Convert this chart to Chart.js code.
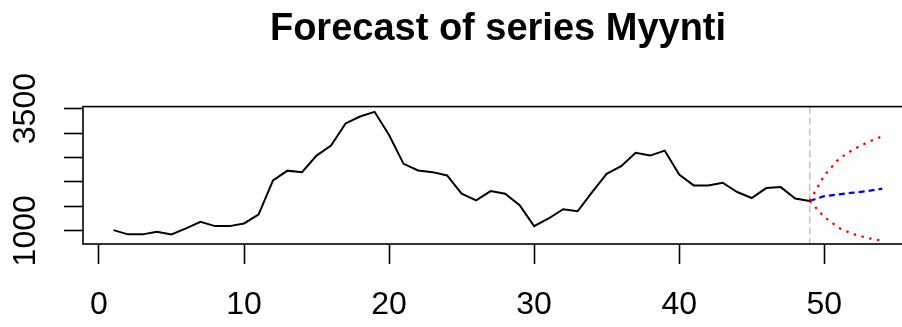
<!DOCTYPE html>
<html>
<head>
<meta charset="utf-8">
<script src="https://cdn.jsdelivr.net/npm/chart.js@4"></script>
<style>
  html, body { margin: 0; padding: 0; background: #fff; overflow: hidden; }
  #wrap { position: relative; width: 913px; height: 327px; }
</style>
</head>
<body>
<div id="wrap"><canvas id="c"></canvas></div>
<script>
// Observed sales (Myynti), periods 1..49
const obsTime = [1, 2, 3, 4, 5, 6, 7, 8, 9, 10, 11, 12, 13, 14, 15, 16, 17, 18, 19, 20,
                 21, 22, 23, 24, 25, 26, 27, 28, 29, 30, 31, 32, 33, 34, 35, 36, 37, 38, 39, 40,
                 41, 42, 43, 44, 45, 46, 47, 48, 49];
const sales = [1014, 927, 927, 980, 927, 1049, 1183, 1096, 1096, 1150,
               1333, 2031, 2231, 2200, 2539, 2742, 3196, 3338, 3434, 2960,
               2370, 2234, 2200, 2132, 1760, 1624, 1813, 1760, 1522, 1096,
               1252, 1441, 1400, 1793, 2167, 2321, 2594, 2539, 2641, 2150,
               1929, 1929, 1984, 1793, 1671, 1874, 1894, 1659, 1610];

// Forecast horizon (starts from the last observation)
const fcTime  = [49, 50, 51, 52, 53, 54];
const fcMean  = [1610, 1710, 1746, 1781, 1813, 1862];
const fcUpper = [1610, 2132, 2470, 2665, 2812, 2935];
const fcLower = [1610, 1284, 1059, 933, 852, 797];

// Axis ticks
const xTicks = [0, 10, 20, 30, 40, 50];
const yTicks = [1000, 1500, 2000, 2500, 3000, 3500];
const yLabelled = [1000, 3500];
const lastObs = 49;

const toPoints = (xs, ys) => xs.map((x, i) => ({ x: x, y: ys[i] }));

Chart.defaults.font.family = '"Liberation Sans", Arial, sans-serif';
Chart.defaults.color = '#000';

// Frame around the plot region and the vertical marker at the forecast origin
const frame = {
  id: 'frame',
  beforeDatasetsDraw(chart) {
    const { ctx, chartArea: a, scales: { x } } = chart;
    const px = x.getPixelForValue(lastObs);
    ctx.save();
    ctx.strokeStyle = '#c4c4c4';
    ctx.lineWidth = 1.6;
    ctx.setLineDash([7, 4]);
    ctx.beginPath();
    ctx.moveTo(px, a.top);
    ctx.lineTo(px, a.bottom);
    ctx.stroke();
    ctx.restore();
  },
  afterDatasetsDraw(chart) {
    const { ctx, chartArea: a } = chart;
    ctx.save();
    ctx.strokeStyle = '#000';
    ctx.lineWidth = 1.6;
    ctx.strokeRect(a.left, a.top, a.right - a.left, a.bottom - a.top);
    ctx.restore();
  }
};

const axisGrid = (len) => ({
  drawOnChartArea: false,
  drawTicks: true,
  tickLength: len,
  tickWidth: 1.6,
  tickColor: '#000',
  color: '#000'
});

new Chart(document.getElementById('c'), {
  type: 'line',
  data: {
    datasets: [
      { data: toPoints(obsTime, sales), borderColor: '#000', borderWidth: 2 },
      { data: toPoints(fcTime, fcUpper), borderColor: '#ff0000', borderWidth: 2.2, borderDash: [2.5, 5.5] },
      { data: toPoints(fcTime, fcLower), borderColor: '#ff0000', borderWidth: 2.2, borderDash: [2.5, 5.5] },
      { data: toPoints(fcTime, fcMean), borderColor: '#0000ff', borderWidth: 2.2, borderDash: [6, 4] }
    ]
  },
  options: {
    responsive: true,
    maintainAspectRatio: false,
    animation: false,
    devicePixelRatio: 1,
    layout: { padding: 0 },
    elements: { point: { radius: 0 }, line: { tension: 0, fill: false } },
    plugins: {
      legend: { display: false },
      tooltip: { enabled: false },
      title: {
        display: true,
        text: 'Forecast of series Myynti',
        fullSize: false,
        font: { size: 38, weight: 'bold' },
        color: '#000',
        padding: { top: 7, bottom: 54 }
      }
    },
    scales: {
      x: {
        type: 'linear',
        min: -1.1,
        max: 56.12,
        grid: axisGrid(20),
        border: { display: false },
        afterBuildTicks: s => { s.ticks = xTicks.map(v => ({ value: v })); },
        afterFit: s => { s.height = 83; },
        ticks: { autoSkip: false, maxRotation: 0, padding: 22, font: { size: 32 }, color: '#000' }
      },
      y: {
        type: 'linear',
        min: 730,
        max: 3541,
        grid: axisGrid(19),
        border: { display: false },
        afterBuildTicks: s => { s.ticks = yTicks.map(v => ({ value: v })); },
        afterFit: s => { s.width = 83; },
        ticks: {
          autoSkip: false,
          minRotation: 90,
          maxRotation: 90,
          crossAlign: 'center',
          padding: 2,
          font: { size: 32 },
          color: '#000',
          callback: v => (yLabelled.includes(v) ? String(v) : '')
        }
      }
    }
  },
  plugins: [frame]
});
</script>
</body>
</html>
